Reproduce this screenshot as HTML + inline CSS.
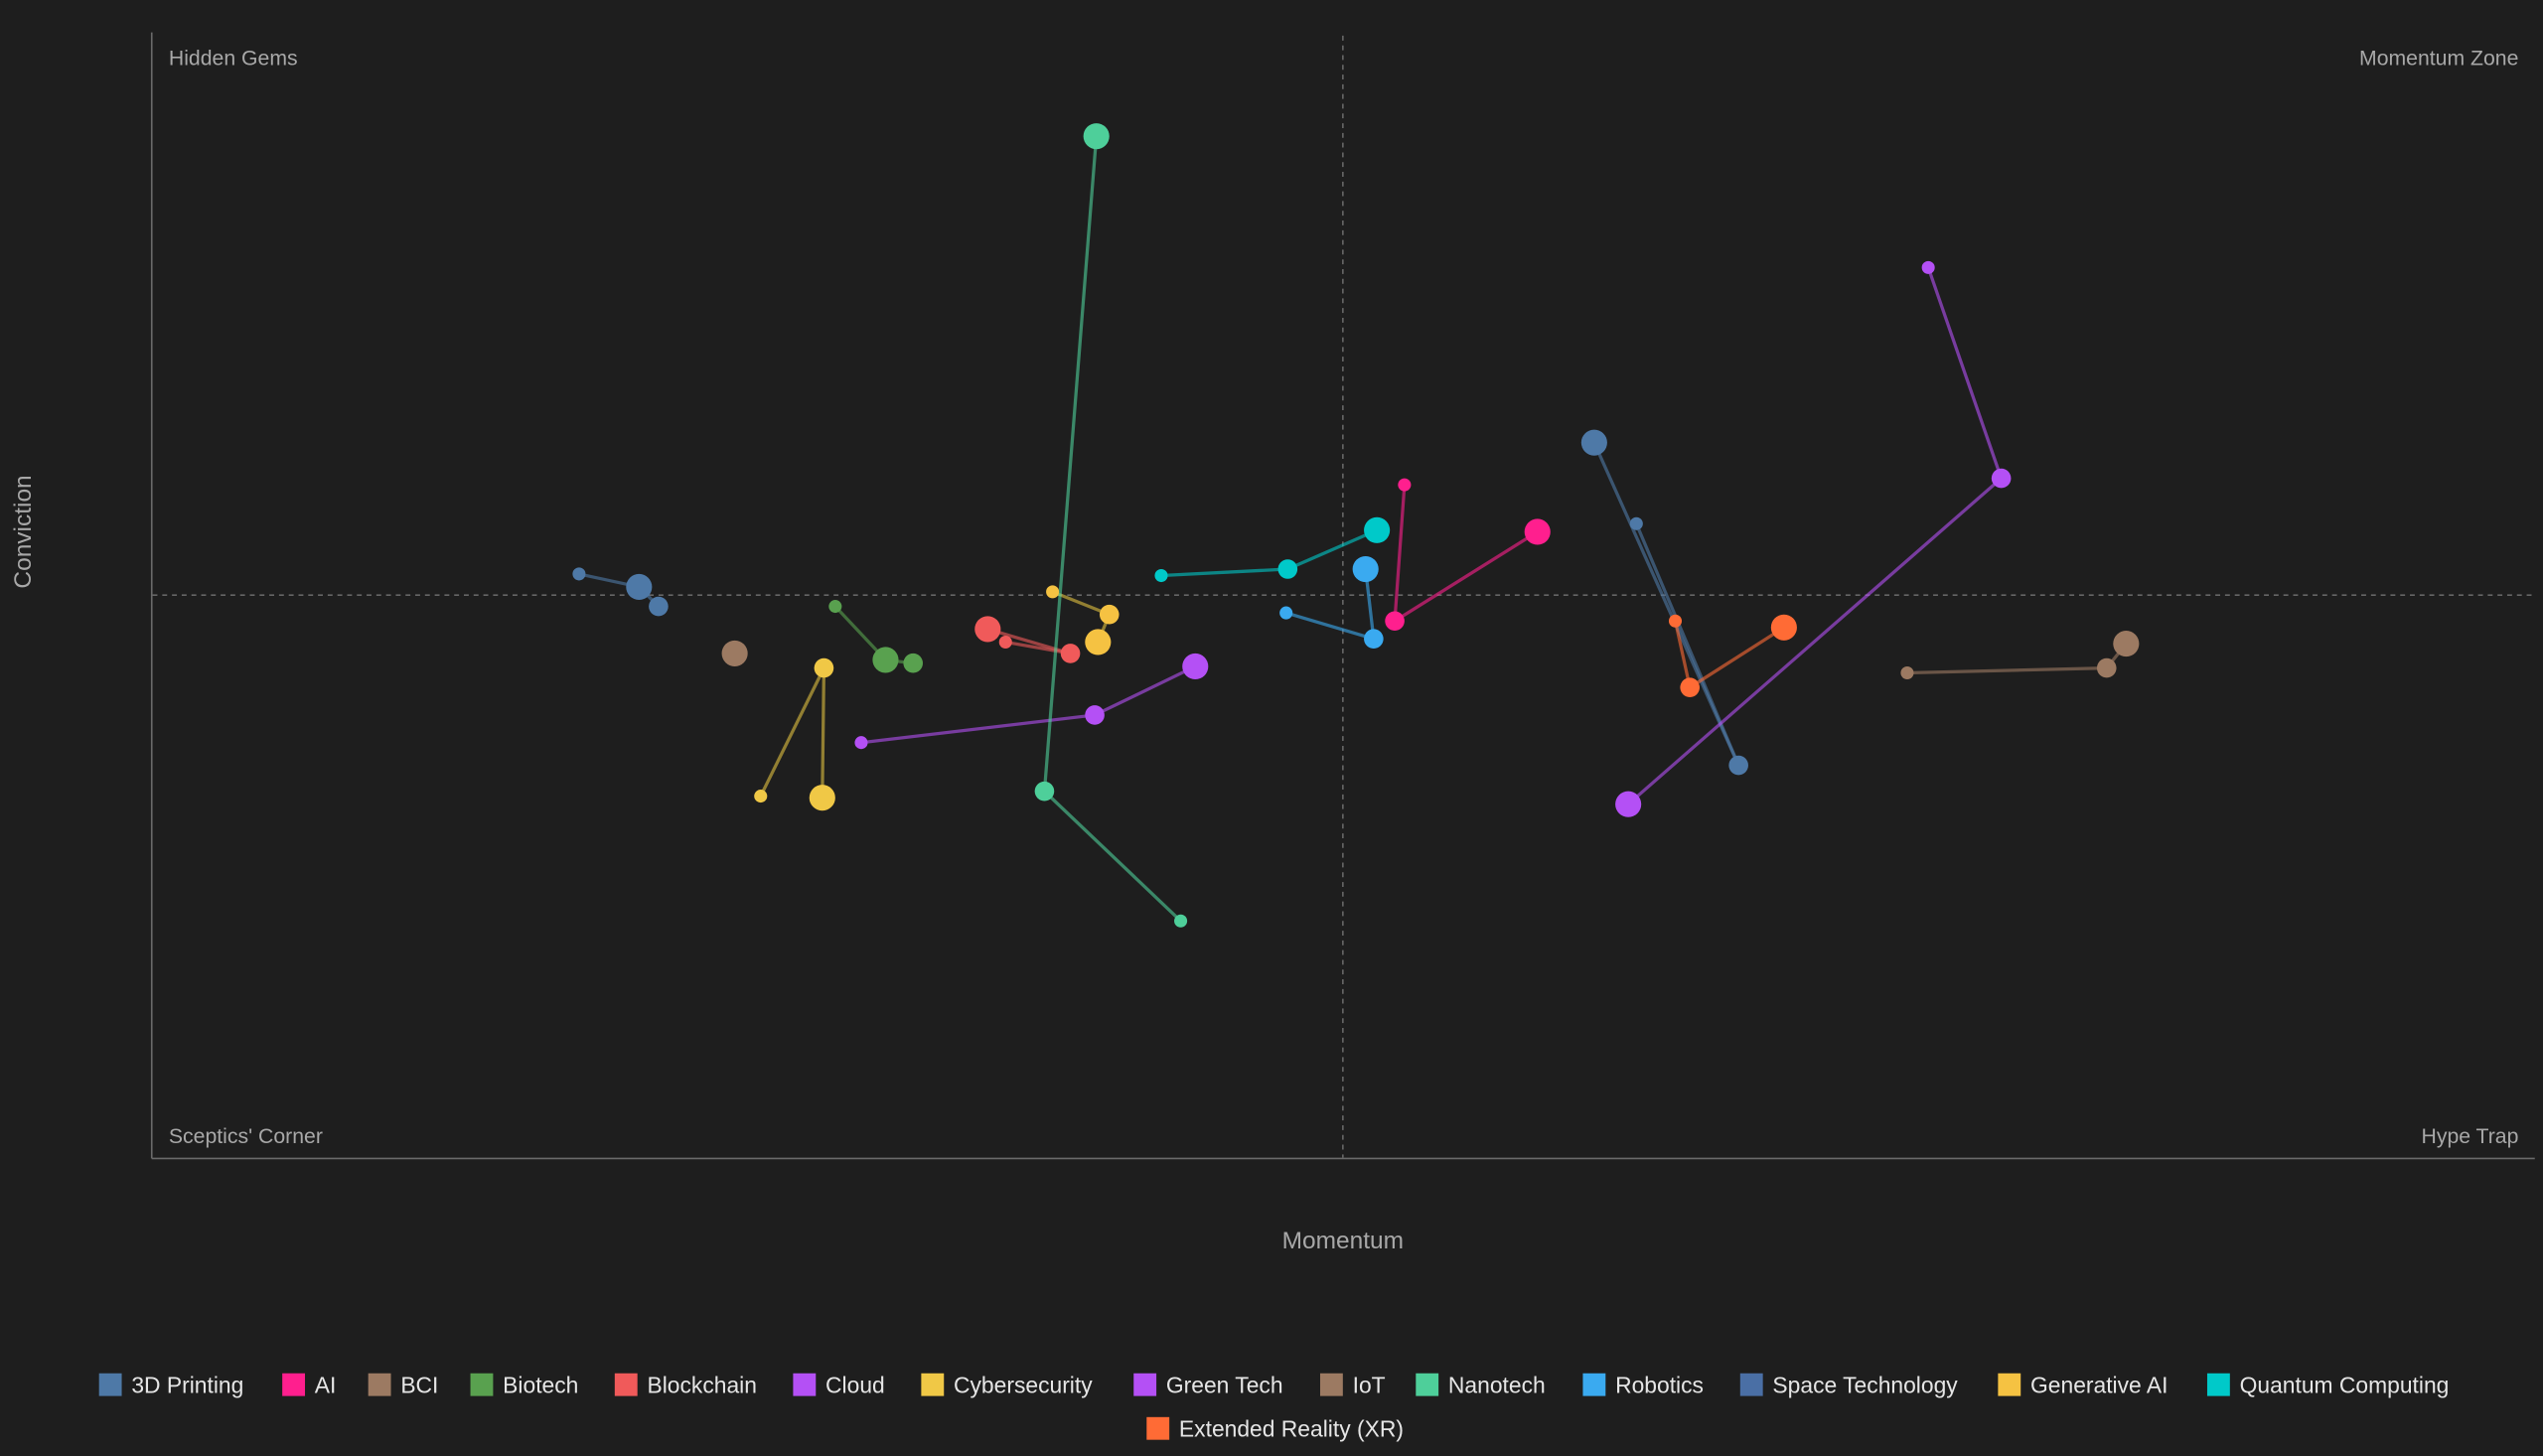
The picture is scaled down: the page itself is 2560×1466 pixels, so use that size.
<!DOCTYPE html>
<html><head><meta charset="utf-8"><style>
html,body{margin:0;padding:0;background:#1e1e1e;}
svg{display:block;}
text{font-family:"Liberation Sans","DejaVu Sans",sans-serif;}
</style></head><body>
<svg width="2560" height="1466" viewBox="0 0 1568 898" xmlns="http://www.w3.org/2000/svg">
<rect width="1568" height="898" fill="#1e1e1e"/>
<line x1="93.5" y1="20" x2="93.5" y2="714.5" stroke="#6a6a6a" stroke-width="1"/>
<line x1="93.5" y1="714.5" x2="1563" y2="714.5" stroke="#6a6a6a" stroke-width="1"/>
<line x1="828" y1="22" x2="828" y2="714" stroke="#666" stroke-width="1" stroke-dasharray="3,3"/>
<line x1="94" y1="367" x2="1563" y2="367" stroke="#666" stroke-width="1" stroke-dasharray="3,3"/>
<g fill="#a8a8a8" font-size="13">
<text x="104" y="40">Hidden Gems</text>
<text x="1553" y="40" text-anchor="end">Momentum Zone</text>
<text x="104" y="705">Sceptics' Corner</text>
<text x="1553" y="705" text-anchor="end">Hype Trap</text>
</g>
<text x="828" y="770" fill="#a8a8a8" font-size="15" text-anchor="middle">Momentum</text>
<text x="19" y="328" fill="#a8a8a8" font-size="15" text-anchor="middle" transform="rotate(-90 19 328)">Conviction</text>
<g fill="none" stroke-width="2" stroke-opacity="0.6">
<polyline points="357,354 394,362 406,374" stroke="#4e79a7"/>
<polyline points="983,273 1072,472" stroke="#4e79a7"/>
<polyline points="1009,323 1072,472" stroke="#4e79a7"/>
<polyline points="866,299 860,383 948,328" stroke="#ff1f8e"/>
<polyline points="1176,415 1299,412 1311,397" stroke="#9c7a62"/>
<polyline points="515,374 546,407 563,409" stroke="#59a14f"/>
<polyline points="609,388 660,403" stroke="#f05a5a"/>
<polyline points="620,396 660,403" stroke="#f05a5a"/>
<polyline points="531,458 675,441 737,411" stroke="#b450f5"/>
<polyline points="1189,165 1234,295 1004,496" stroke="#b450f5"/>
<polyline points="469,491 508,412 507,492" stroke="#e0c040"/>
<polyline points="649,365 684,379 677,396" stroke="#e0c040"/>
<polyline points="676,84 644,488 728,568" stroke="#4ecf9a"/>
<polyline points="793,378 847,394 842,351" stroke="#3aaaf0"/>
<polyline points="716,355 794,351 849,327" stroke="#00c9c9"/>
<polyline points="1033,383 1042,424 1100,387" stroke="#ff6b35"/>
</g>
<g>
<circle cx="357" cy="354" r="4" fill="#4e79a7"/><circle cx="394" cy="362" r="8" fill="#4e79a7"/><circle cx="406" cy="374" r="6" fill="#4e79a7"/>
<circle cx="983" cy="273" r="8" fill="#4e79a7"/><circle cx="1009" cy="323" r="4" fill="#4e79a7"/><circle cx="1072" cy="472" r="6" fill="#4e79a7"/>
<circle cx="866" cy="299" r="4" fill="#ff1f8e"/><circle cx="860" cy="383" r="6" fill="#ff1f8e"/><circle cx="948" cy="328" r="8" fill="#ff1f8e"/>
<circle cx="453" cy="403" r="8" fill="#9c7a62"/>
<circle cx="1176" cy="415" r="4" fill="#9c7a62"/><circle cx="1299" cy="412" r="6" fill="#9c7a62"/><circle cx="1311" cy="397" r="8" fill="#9c7a62"/>
<circle cx="515" cy="374" r="4" fill="#59a14f"/><circle cx="546" cy="407" r="8" fill="#59a14f"/><circle cx="563" cy="409" r="6" fill="#59a14f"/>
<circle cx="609" cy="388" r="8" fill="#f05a5a"/><circle cx="620" cy="396" r="4" fill="#f05a5a"/><circle cx="660" cy="403" r="6" fill="#f05a5a"/>
<circle cx="531" cy="458" r="4" fill="#b450f5"/><circle cx="675" cy="441" r="6" fill="#b450f5"/><circle cx="737" cy="411" r="8" fill="#b450f5"/>
<circle cx="1189" cy="165" r="4" fill="#b450f5"/><circle cx="1234" cy="295" r="6" fill="#b450f5"/><circle cx="1004" cy="496" r="8" fill="#b450f5"/>
<circle cx="469" cy="491" r="4" fill="#f0c846"/><circle cx="508" cy="412" r="6" fill="#f0c846"/><circle cx="507" cy="492" r="8" fill="#f0c846"/>
<circle cx="649" cy="365" r="4" fill="#f5c242"/><circle cx="684" cy="379" r="6" fill="#f5c242"/><circle cx="677" cy="396" r="8" fill="#f5c242"/>
<circle cx="676" cy="84" r="8" fill="#4ecf9a"/><circle cx="644" cy="488" r="6" fill="#4ecf9a"/><circle cx="728" cy="568" r="4" fill="#4ecf9a"/>
<circle cx="793" cy="378" r="4" fill="#3aaaf0"/><circle cx="847" cy="394" r="6" fill="#3aaaf0"/><circle cx="842" cy="351" r="8" fill="#3aaaf0"/>
<circle cx="716" cy="355" r="4" fill="#00c9c9"/><circle cx="794" cy="351" r="6" fill="#00c9c9"/><circle cx="849" cy="327" r="8" fill="#00c9c9"/>
<circle cx="1033" cy="383" r="4" fill="#ff6b35"/><circle cx="1042" cy="424" r="6" fill="#ff6b35"/><circle cx="1100" cy="387" r="8" fill="#ff6b35"/>
</g>
<g font-size="14" fill="#e6e6e6">
<rect x="61" y="847" width="14" height="14" fill="#4e79a7"/><text x="81" y="859">3D Printing</text>
<rect x="174" y="847" width="14" height="14" fill="#ff1f8e"/><text x="194" y="859">AI</text>
<rect x="227" y="847" width="14" height="14" fill="#9c7a62"/><text x="247" y="859">BCI</text>
<rect x="290" y="847" width="14" height="14" fill="#59a14f"/><text x="310" y="859">Biotech</text>
<rect x="379" y="847" width="14" height="14" fill="#f05a5a"/><text x="399" y="859">Blockchain</text>
<rect x="489" y="847" width="14" height="14" fill="#b450f5"/><text x="509" y="859">Cloud</text>
<rect x="568" y="847" width="14" height="14" fill="#f0c846"/><text x="588" y="859">Cybersecurity</text>
<rect x="699" y="847" width="14" height="14" fill="#b450f5"/><text x="719" y="859">Green Tech</text>
<rect x="814" y="847" width="14" height="14" fill="#9c7a62"/><text x="834" y="859">IoT</text>
<rect x="873" y="847" width="14" height="14" fill="#4ecf9a"/><text x="893" y="859">Nanotech</text>
<rect x="976" y="847" width="14" height="14" fill="#3aaaf0"/><text x="996" y="859">Robotics</text>
<rect x="1073" y="847" width="14" height="14" fill="#4a6fa5"/><text x="1093" y="859">Space Technology</text>
<rect x="1232" y="847" width="14" height="14" fill="#f5c242"/><text x="1252" y="859">Generative AI</text>
<rect x="1361" y="847" width="14" height="14" fill="#00c9c9"/><text x="1381" y="859">Quantum Computing</text>
<rect x="707" y="874" width="14" height="14" fill="#ff6b35"/><text x="727" y="886">Extended Reality (XR)</text>
</g>
</svg>
</body></html>
